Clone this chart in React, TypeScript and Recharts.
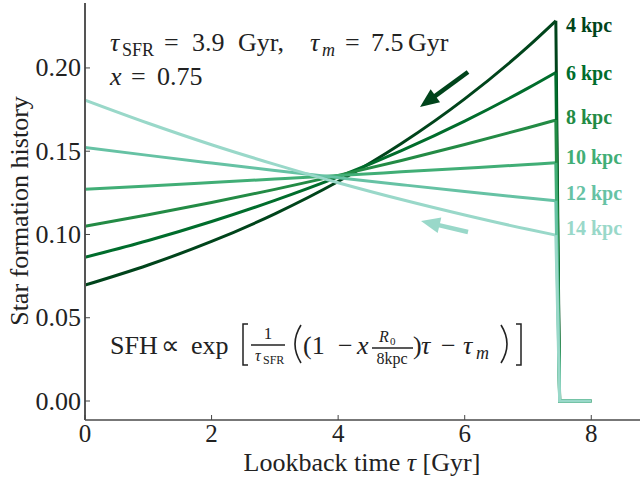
import React from "react";
import { LineChart, Line, XAxis, YAxis } from "recharts";

// lookback time grid [Gyr]; the last two points are the drop to zero at tau_m
const tau = [0, 1, 2, 3, 4, 5, 6, 7, 7.44, 7.5, 8];
// index of the last point before the drop
const LAST = 8;

// normalised star formation history per galactocentric radius
const sfh4 = [0.0696, 0.0817, 0.0958, 0.1124, 0.1318, 0.1546, 0.1814, 0.2128, 0.2283, 0, 0];
const sfh6 = [0.0863, 0.0964, 0.1078, 0.1205, 0.1346, 0.1504, 0.1681, 0.1879, 0.1973, 0, 0];
const sfh8 = [0.1049, 0.1118, 0.1192, 0.1271, 0.1355, 0.1444, 0.154, 0.1641, 0.1687, 0, 0];
const sfh10 = [0.1271, 0.1291, 0.1312, 0.1333, 0.1354, 0.1376, 0.1398, 0.142, 0.143, 0, 0];
const sfh12 = [0.1523, 0.1475, 0.1429, 0.1384, 0.1341, 0.1299, 0.1258, 0.1219, 0.1202, 0, 0];
const sfh14 = [0.1807, 0.1668, 0.1539, 0.1421, 0.1311, 0.121, 0.1117, 0.1031, 0.0996, 0, 0];

const radii = ["4 kpc", "6 kpc", "8 kpc", "10 kpc", "12 kpc", "14 kpc"];
const colors = ["#00441b", "#006d2c", "#238b45", "#41ae76", "#66c2a4", "#99d8c9"];
const series = [sfh4, sfh6, sfh8, sfh10, sfh12, sfh14];

const xTicks = [0, 2, 4, 6, 8];
const yTicks = [0, 0.05, 0.1, 0.15, 0.2];

// smooth part and the sharp cut-off are kept under separate keys
const data = tau.map((t, i) => {
  const row: Record<string, number | null> = { tau: t };
  series.forEach((s, k) => {
    row[radii[k]] = i <= LAST ? s[i] : null;
    row[radii[k] + " cut"] = i >= LAST ? s[i] : null;
  });
  return row;
});

const FONT = "Liberation Serif";
const INK = "#222";
const W = 641;
const H = 478;

const BottomTick = (props: any) => {
  const { x, y, payload } = props;
  return (
    <g>
      <line x1={x} x2={x} y1={y} y2={y - 5} stroke="#444" strokeWidth={1} />
      <text x={x} y={y + 22} textAnchor="middle" fontSize={25} fontFamily={FONT} fill={INK}>
        {payload.value}
      </text>
    </g>
  );
};

const TopTick = (props: any) => {
  const { x, y } = props;
  return <line x1={x} x2={x} y1={y} y2={y + 5} stroke="#444" strokeWidth={1} />;
};

const LeftTick = (props: any) => {
  const { x, y, payload } = props;
  return (
    <g>
      <line x1={x} x2={x + 5} y1={y} y2={y} stroke="#444" strokeWidth={1} />
      <text x={x - 4} y={y + 8.5} textAnchor="end" fontSize={26} fontFamily={FONT} fill={INK}>
        {payload.value.toFixed(2)}
      </text>
    </g>
  );
};

const RightTick = (props: any) => {
  const { x, y } = props;
  return <line x1={x} x2={x - 5} y1={y} y2={y} stroke="#444" strokeWidth={1} />;
};

function Arrow({ from, to, color }: { from: [number, number]; to: [number, number]; color: string }) {
  const dx = to[0] - from[0];
  const dy = to[1] - from[1];
  const len = Math.hypot(dx, dy);
  const ux = dx / len;
  const uy = dy / len;
  const hl = 19;
  const hw = 8;
  const bx = to[0] - hl * ux;
  const by = to[1] - hl * uy;
  const pts = [
    [to[0], to[1]],
    [bx - hw * uy, by + hw * ux],
    [bx + hw * uy, by - hw * ux],
  ]
    .map((p) => p.join(","))
    .join(" ");
  return (
    <g>
      <line x1={from[0]} y1={from[1]} x2={bx + 3 * ux} y2={by + 3 * uy} stroke={color} strokeWidth={4.5} />
      <polygon points={pts} fill={color} />
    </g>
  );
}

const labelY = [25, 73, 117, 157, 193, 228];

// one piece of typeset text at a fixed spot
const T = ({ x, y, s = 26, it = false, children, anchor }: any) => (
  <text x={x} y={y} fontSize={s} fontStyle={it ? "italic" : "normal"} textAnchor={anchor} fill={INK}>
    {children}
  </text>
);

export default function App() {
  return (
    <div style={{ position: "absolute", left: 0, top: 0, width: W, height: H, background: "#fff" }}>
      <LineChart width={W} height={H} data={data} margin={{ top: 3, right: 1, bottom: 0, left: 0 }}>
        <XAxis
          xAxisId="b"
          dataKey="tau"
          type="number"
          domain={[0, 8.77]}
          ticks={xTicks}
          allowDataOverflow
          height={58}
          tickSize={0}
          tickMargin={0}
          tickLine={false}
          axisLine={{ stroke: "#777", strokeWidth: 2 }}
          tick={<BottomTick />}
        />
        <XAxis
          xAxisId="t"
          orientation="top"
          dataKey="tau"
          type="number"
          domain={[0, 8.77]}
          ticks={xTicks}
          allowDataOverflow
          height={0}
          tickSize={0}
          tickMargin={0}
          tickLine={false}
          axisLine={{ stroke: "#000", strokeWidth: 2 }}
          tick={<TopTick />}
        />
        <YAxis
          yAxisId="l"
          type="number"
          domain={[-0.0114, 0.239]}
          ticks={yTicks}
          allowDataOverflow
          width={85}
          tickSize={0}
          tickMargin={0}
          tickLine={false}
          axisLine={{ stroke: "#555", strokeWidth: 2 }}
          tick={<LeftTick />}
        />
        <YAxis
          yAxisId="r"
          orientation="right"
          type="number"
          domain={[-0.0114, 0.239]}
          ticks={yTicks}
          allowDataOverflow
          width={0}
          tickSize={0}
          tickMargin={0}
          tickLine={false}
          axisLine={{ stroke: "#aaa", strokeWidth: 1 }}
          tick={<RightTick />}
        />
        {radii.map((r, k) => (
          <Line
            key={r}
            xAxisId="b"
            yAxisId="l"
            dataKey={r}
            type="monotone"
            stroke={colors[k]}
            strokeWidth={3}
            dot={false}
            isAnimationActive={false}
          />
        ))}
        {radii.map((r, k) => (
          <Line
            key={r + " cut"}
            xAxisId="b"
            yAxisId="l"
            dataKey={r + " cut"}
            type="linear"
            stroke={colors[k]}
            strokeWidth={3}
            dot={false}
            isAnimationActive={false}
          />
        ))}
      </LineChart>

      <svg
        width={W}
        height={H}
        style={{ position: "absolute", left: 0, top: 0, pointerEvents: "none" }}
        fontFamily={FONT}
      >
        {radii.map((r, k) => (
          <text key={r} x={566} y={labelY[k] + 7} fontSize={20} fontWeight="bold" fill={colors[k]}>
            {r}
          </text>
        ))}

        <Arrow from={[468, 72]} to={[420, 107]} color="#00441b" />
        <Arrow from={[468, 232]} to={[421, 221]} color="#99d8c9" />

        {/* parameter text */}
        <T x={110} y={51} it>τ</T>
        <T x={122} y={56} s={18}>SFR</T>
        <T x={164} y={51}>=</T>
        <T x={192} y={51}>3.9</T>
        <T x={238} y={51}>Gyr,</T>
        <T x={310} y={51} it>τ</T>
        <T x={322} y={56} s={18} it>m</T>
        <T x={345} y={51}>=</T>
        <T x={371} y={51}>7.5</T>
        <T x={408} y={51}>Gyr</T>
        <T x={110} y={85} it>x</T>
        <T x={131} y={85}>=</T>
        <T x={157} y={85}>0.75</T>

        {/* SFH formula */}
        <T x={110} y={354}>SFH</T>
        <T x={161} y={354}>∝</T>
        <T x={191} y={354}>exp</T>
        <path d="M248,324 H243 V365 H248" fill="none" stroke={INK} strokeWidth={1.5} />
        <T x={268} y={339} s={17} anchor="middle">1</T>
        <line x1={251} x2={285} y1={345} y2={345} stroke={INK} strokeWidth={1.5} />
        <T x={255} y={361} s={16} it>τ</T>
        <T x={263} y={364} s={12}>SFR</T>
        <path d="M301,325 Q289,344 301,363" fill="none" stroke={INK} strokeWidth={1.6} />
        <T x={303} y={354}>(1</T>
        <T x={338} y={354}>−</T>
        <T x={357} y={354} it>x</T>
        <T x={379} y={342} s={16} it>R</T>
        <T x={390} y={345} s={11}>0</T>
        <line x1={372} x2={413} y1={348} y2={348} stroke={INK} strokeWidth={1.5} />
        <T x={392} y={364} s={16} anchor="middle">8kpc</T>
        <T x={413} y={354}>)</T>
        <T x={421} y={354} it>τ</T>
        <T x={441} y={354}>−</T>
        <T x={463} y={354} it>τ</T>
        <T x={476} y={359} s={18} it>m</T>
        <path d="M501,325 Q513,344 501,363" fill="none" stroke={INK} strokeWidth={1.6} />
        <path d="M516,324 H521 V365 H516" fill="none" stroke={INK} strokeWidth={1.5} />

        {/* axis titles */}
        <text x={362} y={471} fontSize={26} textAnchor="middle" fill={INK}>
          Lookback time <tspan fontStyle="italic">τ</tspan> [Gyr]
        </text>
        <text transform="translate(28,211) rotate(-90)" fontSize={26} textAnchor="middle" fill={INK}>
          Star formation history
        </text>
      </svg>
    </div>
  );
}
